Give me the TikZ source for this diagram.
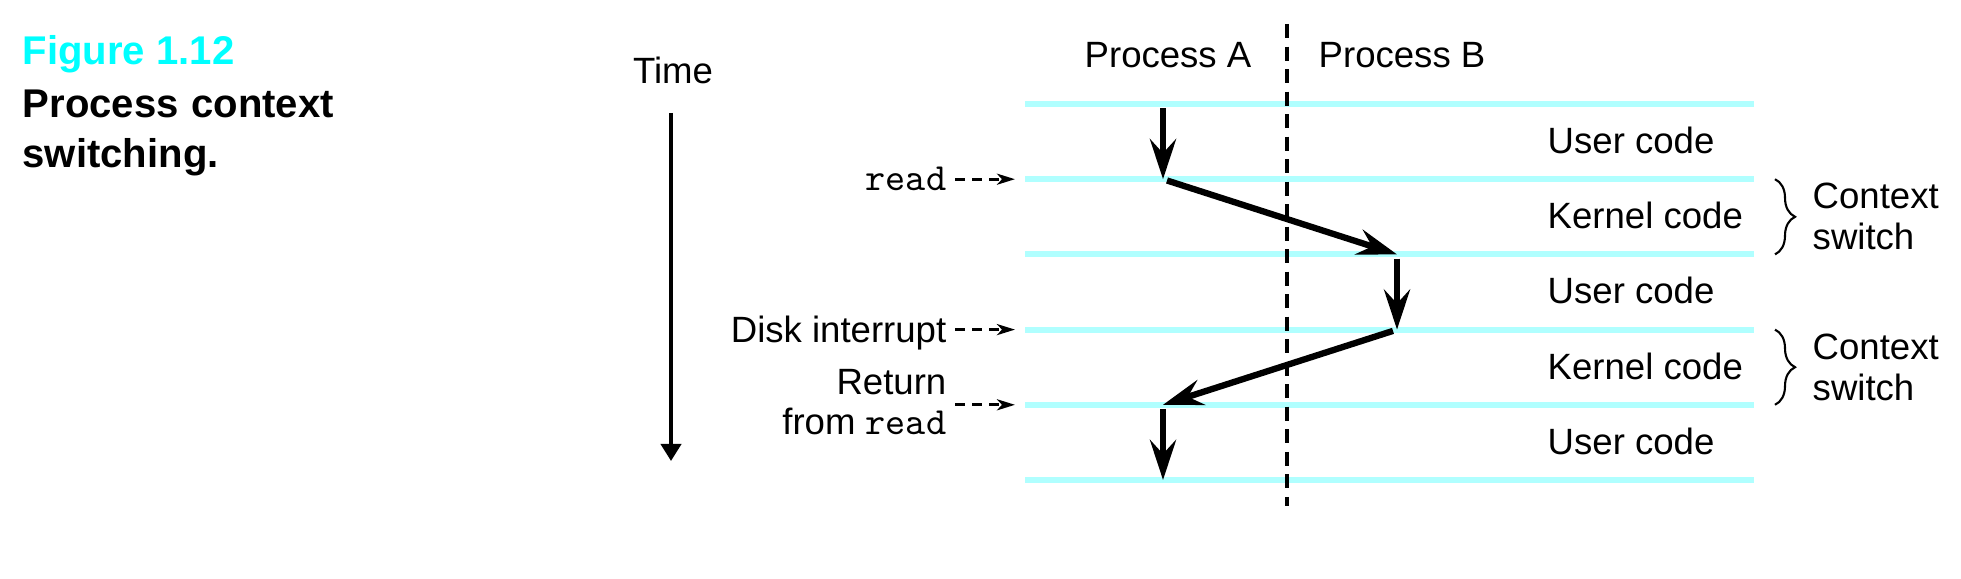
\documentclass[tikz,border=0pt]{standalone}
\usepackage{fontspec}
\setmainfont{Liberation Sans}
\setmonofont[Scale=1.05]{Latin Modern Mono}
\usetikzlibrary{arrows.meta,decorations.pathreplacing}
\definecolor{tiercyan}{RGB}{176,255,255}
\definecolor{figcyan}{RGB}{0,255,255}
\tikzstyle{tier} = [draw=tiercyan, line width=1.7pt]
\tikzstyle{divider} = [draw, line width=1.1pt, dash pattern=on 0.14cm off 0.085cm]
\tikzstyle{flow} = [draw, line width=1.8pt, shorten <=1.2pt,
    -{Stealth[length=4mm, width=2.6mm, inset=1.4mm]}]
\tikzstyle{timeline} = [draw, line width=1.1pt, -{Triangle[length=1.7mm, width=2mm]}]
\tikzstyle{event} = [draw, line width=0.85pt, dash pattern=on 0.1cm off 0.07cm,
    shorten <=0.08cm, shorten >=0.1cm, -{Stealth[length=1.8mm, width=1.1mm, inset=0.5mm]}]
\tikzstyle{code} = [anchor=west, inner sep=0]
\tikzstyle{cbrace} = [draw, line width=0.6pt, decorate, decoration={brace, amplitude=0.2cm}]
\tikzstyle{caption} = [anchor=base west, inner sep=0, font=\bfseries\fontsize{11.4}{14}\selectfont]

\begin{document}
\begin{tikzpicture}[x=0.01cm, y=-0.01cm, font=\fontsize{10.4}{11.6}\selectfont]
	\useasboundingbox (0,0) rectangle (1961,579);

	% caption
	\node [caption, text=figcyan] (fig) at (22,65) {Figure 1.12};
	\node [caption, text width=3.11cm] (title) at (22,118) {Process\hfill context};
	\node [caption] (title2) at (22,168) {switching.};

	% time bands
	\foreach \y [count=\i from 0] in {104,179.2,254.4,329.6,404.8,480} {
		\coordinate (l\i) at (1025,\y);
		\coordinate (r\i) at (1754,\y);
		\coordinate (a\i) at (1163,\y);
		\coordinate (b\i) at (1397,\y);
		\coordinate (c\i) at (1775,\y);
		\path [tier] (l\i) -- (r\i);
	}

	\coordinate (top) at (1287,24);
	\coordinate (bot) at (1287,506);
	\path [divider] (top) -- (bot);

	\node (pa) at (1168,55) {Process A};
	\node (pb) at (1402,55) {Process B};

	\node (time) at (673,70) {Time};
	\coordinate (t0) at (671,113);
	\coordinate (t1) at (671,461);
	\path [timeline] (t0) -- (t1);

	\node [code] (u1) at (1547,140) {User code};
	\node [code] (k1) at (1547,215.5) {Kernel code};
	\node [code] (u2) at (1547,290.5) {User code};
	\node [code] (k2) at (1547,366) {Kernel code};
	\node [code] (u3) at (1547,441) {User code};

	\path [cbrace] (c1) -- (c2);
	\path [cbrace] (c3) -- (c4);
	\node [code, align=left] (cs1) at (1812,216.8) {Context\\switch};
	\node [code, align=left] (cs2) at (1812,367.2) {Context\\switch};

	% events
	\node [anchor=base east, inner sep=0] (rd) at (947,190) {\texttt{read}};
	\node [anchor=base east, inner sep=0] (dsk) at (947,342) {Disk interrupt};
	\node [anchor=east, align=right, inner sep=0] (ret) at (947,402) {Return\\from \texttt{read}};
	\path [event] (rd.east |- l1) -- (l1);
	\path [event] (dsk.east |- l3) -- (l3);
	\path [event] (ret.east |- l4) -- (l4);

	% control flow
	\path [flow] (a0) -- (a1);
	\path [flow] (a1) -- (b2);
	\path [flow] (b2) -- (b3);
	\path [flow] (b3) -- (a4);
	\path [flow] (a4) -- (a5);
\end{tikzpicture}
\end{document}
